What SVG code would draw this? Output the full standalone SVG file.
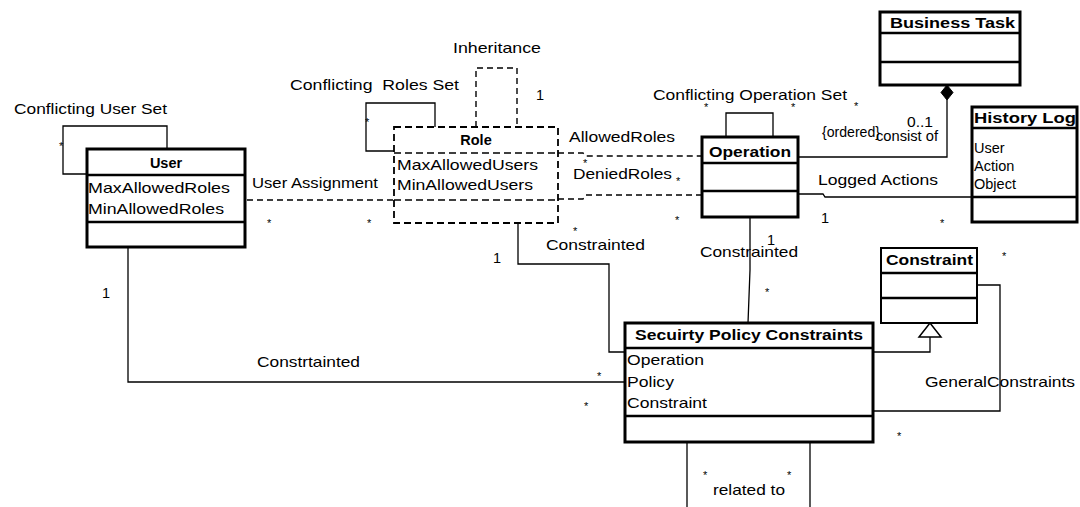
<svg xmlns="http://www.w3.org/2000/svg" width="1080" height="507" viewBox="0 0 1080 507">
<style>
text{font-family:"Liberation Sans",Arial,sans-serif;font-size:14.5px;fill:#000}
.b{font-weight:bold}
.st{font-size:11px}
.box{fill:#fff;stroke:#000;stroke-width:3}
.thin{fill:#fff;stroke:#000;stroke-width:2}
.dbox{fill:#fff;stroke:#000;stroke-width:1.8;stroke-dasharray:7,4}
.sep{stroke:#000;stroke-width:2.5}
.dsep{stroke:#000;stroke-width:1.6;stroke-dasharray:7,4}
.c{fill:none;stroke:#000;stroke-width:1.3}
.d{fill:none;stroke:#000;stroke-width:1.4;stroke-dasharray:6,4}
</style>
<rect width="1080" height="507" fill="#fff"/>
<g id="connectors">
<polyline class="c" points="87,174 63,174 63,126 167,126 167,149"/>
<line class="d" x1="247" y1="200" x2="394" y2="200"/>
<polyline class="c" points="394,151 366,151 366,103 435,103 435,127"/>
<polyline class="d" points="476,127 476,68 517,68 517,127"/>
<polyline class="d" points="558,153 583,153 586,156 702,156"/>
<polyline class="d" points="558,199 583,199 586,195 702,195"/>
<polyline class="c" points="726,137 726,113 773,113 773,137"/>
<polyline class="c" points="798,157 947,157 947,100"/>
<polygon points="947,85 953,92.5 947,100 941,92.5" fill="#000" stroke="#000" stroke-width="1"/>
<polyline class="c" points="798,194 823,194 825,197 972,197"/>
<polyline class="c" points="750,217 750,270 748,323"/>
<polyline class="c" points="518,224 518,264 609,264 609,352 625,352"/>
<polyline class="c" points="128,247 128,382 625,382"/>
<polyline class="c" points="873,352 930,352 930,337"/>
<polygon points="930,323 941,337 919,337" fill="#fff" stroke="#000" stroke-width="1.5"/>
<polyline class="c" points="977,285 1000,285 1000,411 873,411"/>
<line class="c" x1="687" y1="442" x2="687" y2="507"/>
<line class="c" x1="810" y1="442" x2="810" y2="507"/>
</g>
<g id="labels">
<text x="14" y="114" textLength="153" lengthAdjust="spacingAndGlyphs">Conflicting User Set</text>
<text x="252" y="188" textLength="126" lengthAdjust="spacingAndGlyphs">User Assignment</text>
<text x="290" y="90" textLength="169" lengthAdjust="spacingAndGlyphs" xml:space="preserve">Conflicting  Roles Set</text>
<text x="453" y="53" textLength="88" lengthAdjust="spacingAndGlyphs">Inheritance</text>
<text x="536" y="100">1</text>
<text x="569" y="142" textLength="106" lengthAdjust="spacingAndGlyphs">AllowedRoles</text>
<text x="573" y="179" textLength="99" lengthAdjust="spacingAndGlyphs">DeniedRoles</text>
<text x="653" y="100" textLength="194" lengthAdjust="spacingAndGlyphs">Conflicting Operation Set</text>
<text x="822" y="137" textLength="58" lengthAdjust="spacingAndGlyphs">{ordered}</text>
<text x="907" y="127" textLength="26" lengthAdjust="spacingAndGlyphs">0..1</text>
<text x="876" y="141" textLength="62" lengthAdjust="spacingAndGlyphs">consist of</text>
<text x="818" y="185" textLength="120" lengthAdjust="spacingAndGlyphs">Logged Actions</text>
<text x="821" y="223">1</text>
<text x="546" y="250" textLength="99" lengthAdjust="spacingAndGlyphs">Constrainted</text>
<text x="493" y="263">1</text>
<text x="700" y="257" textLength="98" lengthAdjust="spacingAndGlyphs">Constrainted</text>
<text x="767" y="245">1</text>
<text x="257" y="367" textLength="103" lengthAdjust="spacingAndGlyphs">Constrtainted</text>
<text x="102" y="298">1</text>
<text x="925" y="387" textLength="150" lengthAdjust="spacingAndGlyphs">GeneralConstraints</text>
<text x="713" y="495" textLength="72" lengthAdjust="spacingAndGlyphs">related to</text>
<g>
<text x="59" y="150" class="st">*</text>
<text x="267" y="227" class="st">*</text>
<text x="367" y="227" class="st">*</text>
<text x="365" y="126" class="st">*</text>
<text x="573" y="235" class="st">*</text>
<text x="583" y="167" class="st">*</text>
<text x="676" y="185" class="st">*</text>
<text x="675" y="224" class="st">*</text>
<text x="704" y="111" class="st">*</text>
<text x="791" y="111" class="st">*</text>
<text x="854" y="110" class="st">*</text>
<text x="940" y="227" class="st">*</text>
<text x="1002" y="260" class="st">*</text>
<text x="765" y="296" class="st">*</text>
<text x="597" y="380" class="st">*</text>
<text x="584" y="410" class="st">*</text>
<text x="897" y="440" class="st">*</text>
<text x="703" y="479" class="st">*</text>
<text x="787" y="479" class="st">*</text>
</g>
</g>
<g id="User">
<rect class="box" x="87" y="149" width="158" height="98"/>
<line class="sep" x1="87" y1="175" x2="245" y2="175"/>
<line class="sep" x1="87" y1="222" x2="245" y2="222"/>
<text class="b" x="166" y="168" text-anchor="middle">User</text>
<text x="88" y="193" textLength="142" lengthAdjust="spacingAndGlyphs">MaxAllowedRoles</text>
<text x="88" y="214" textLength="136" lengthAdjust="spacingAndGlyphs">MinAllowedRoles</text>
</g>
<g id="Role">
<rect class="dbox" x="394" y="127" width="164" height="96"/>
<line class="dsep" x1="394" y1="153" x2="558" y2="153"/>
<line class="dsep" x1="394" y1="200" x2="558" y2="200"/>
<text class="b" x="476" y="145" text-anchor="middle" font-size="15.5">Role</text>
<text x="397" y="170" textLength="141" lengthAdjust="spacingAndGlyphs">MaxAllowedUsers</text>
<text x="397" y="190" textLength="136" lengthAdjust="spacingAndGlyphs">MinAllowedUsers</text>
</g>
<g id="Operation">
<rect class="box" x="702" y="137" width="96" height="80" stroke-width="3.5"/>
<line class="sep" x1="702" y1="163" x2="798" y2="163"/>
<line class="sep" x1="702" y1="191" x2="798" y2="191"/>
<text class="b" x="750" y="157" text-anchor="middle" textLength="82" lengthAdjust="spacingAndGlyphs">Operation</text>
</g>
<g id="BusinessTask">
<rect class="box" x="880" y="12" width="140" height="73"/>
<line class="sep" x1="880" y1="33" x2="1020" y2="33"/>
<line class="sep" x1="880" y1="62" x2="1020" y2="62"/>
<text class="b" x="890" y="28" textLength="125" lengthAdjust="spacingAndGlyphs">Business Task</text>
</g>
<g id="HistoryLog">
<rect class="box" x="972" y="107" width="105" height="115"/>
<line class="sep" x1="972" y1="128" x2="1077" y2="128"/>
<line class="sep" x1="972" y1="197" x2="1077" y2="197"/>
<text class="b" x="974" y="123" textLength="102" lengthAdjust="spacingAndGlyphs">History Log</text>
<text x="974" y="153">User</text>
<text x="974" y="171">Action</text>
<text x="974" y="189">Object</text>
</g>
<g id="Constraint">
<rect class="thin" x="881" y="248" width="96" height="75"/>
<line class="sep" x1="881" y1="273" x2="977" y2="273" stroke-width="1.8"/>
<line class="sep" x1="881" y1="298" x2="977" y2="298" stroke-width="1.8"/>
<text class="b" x="886" y="265" textLength="87" lengthAdjust="spacingAndGlyphs">Constraint</text>
</g>
<g id="SecurityPolicyConstraints">
<rect class="box" x="625" y="323" width="248" height="119" stroke-width="3.5"/>
<line class="sep" x1="625" y1="348" x2="873" y2="348" stroke-width="3"/>
<line class="sep" x1="625" y1="416" x2="873" y2="416" stroke-width="3"/>
<text class="b" x="635" y="340" textLength="228" lengthAdjust="spacingAndGlyphs">Secuirty Policy Constraints</text>
<text x="627" y="365" textLength="77" lengthAdjust="spacingAndGlyphs">Operation</text>
<text x="627" y="387" textLength="47" lengthAdjust="spacingAndGlyphs">Policy</text>
<text x="627" y="408" textLength="80" lengthAdjust="spacingAndGlyphs">Constraint</text>
</g>
</svg>
